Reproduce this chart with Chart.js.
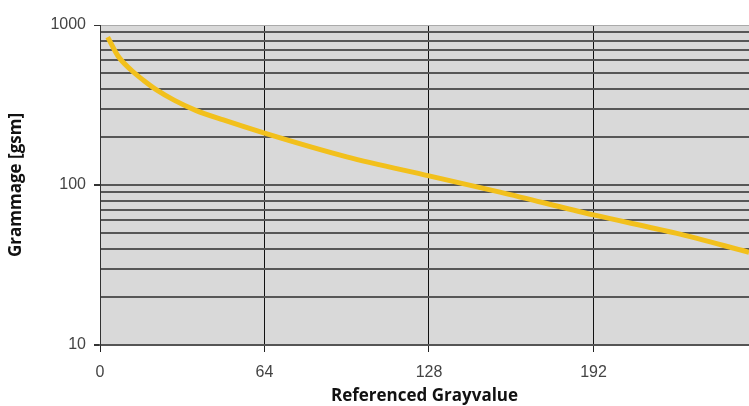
<!DOCTYPE html>
<html>
<head>
<meta charset="utf-8">
<script src="https://cdn.jsdelivr.net/npm/chart.js@4/dist/chart.umd.min.js"></script>
<style>
  html, body { margin: 0; padding: 0; background: #fff; }
  #wrap { width: 749px; height: 406px; position: relative; }
</style>
</head>
<body>
<div id="wrap"><canvas id="chart"></canvas></div>
<script>
// gray value on x, grammage on a log y axis
const grayValues = [3, 7, 12, 17, 22, 29, 37, 48, 64, 96, 128, 156, 192, 224, 252.5];
const grammage   = [840, 640, 525, 450, 393, 338, 294, 255, 211, 150, 114, 90, 65, 50, 38];

const xTicks = [0, 64, 128, 192];
const yTicks = [10, 20, 30, 40, 50, 60, 70, 80, 90,
                100, 200, 300, 400, 500, 600, 700, 800, 900, 1000];
const yLabels = [10, 100, 1000];

// gray plot background
const plotBg = {
  id: 'plotBg',
  beforeDraw(chart) {
    const { ctx, chartArea: a } = chart;
    ctx.save();
    ctx.fillStyle = '#d9d9d9';
    ctx.fillRect(a.left, a.top, a.right - a.left, a.bottom - a.top);
    ctx.restore();
  }
};

const ctx = document.getElementById('chart').getContext('2d');
new Chart(ctx, {
  type: 'line',
  data: {
    datasets: [{
      data: grayValues.map((x, i) => ({ x: x, y: grammage[i] })),
      borderColor: '#f2c01c',
      borderWidth: 5,
      pointRadius: 0,
      cubicInterpolationMode: 'monotone',
      fill: false
    }]
  },
  options: {
    responsive: true,
    maintainAspectRatio: false,
    animation: false,
    layout: { padding: { top: 25, right: 0, left: 0, bottom: 0 } },
    plugins: { legend: { display: false }, tooltip: { enabled: false } },
    scales: {
      x: {
        type: 'linear',
        min: 0,
        max: 252.5,
        afterBuildTicks: s => { s.ticks = xTicks.map(v => ({ value: v })); },
        afterFit: s => { s.height = 61; },
        ticks: {
          color: '#444',
          padding: 11,
          maxRotation: 0,
          font: { family: 'Liberation Sans', size: 16 }
        },
        grid: {
          color: '#111',
          lineWidth: 1,
          tickLength: 7,
          tickColor: '#222'
        },
        border: { display: true, color: '#555', width: 2 },
        title: {
          display: true,
          text: 'Referenced Grayvalue',
          color: '#111',
          padding: { top: 0, bottom: 0 },
          font: { family: 'Open Sans', size: 17, weight: 'bold' }
        }
      },
      y: {
        type: 'logarithmic',
        min: 10,
        max: 1000,
        afterBuildTicks: s => { s.ticks = yTicks.map(v => ({ value: v })); },
        afterFit: s => { s.width = 100; },
        ticks: {
          color: '#444',
          padding: 8,
          autoSkip: false,
          font: { family: 'Liberation Sans', size: 16 },
          callback: v => yLabels.includes(v) ? String(v) : ''
        },
        grid: {
          color: c => c.tick && c.tick.value === 1000 ? '#aaaaaa' : '#575757',
          lineWidth: c => c.tick && c.tick.value === 1000 ? 1 : 2,
          tickLength: 6,
          tickColor: c => c.tick && yLabels.includes(c.tick.value) ? '#333' : 'rgba(0,0,0,0)'
        },
        border: { display: true, color: '#333', width: 1 },
        title: {
          display: true,
          text: 'Grammage [gsm]',
          color: '#111',
          padding: { top: 6, bottom: 0 },
          font: { family: 'Open Sans', size: 17, weight: 'bold' }
        }
      }
    }
  },
  plugins: [plotBg]
});
</script>
</body>
</html>
